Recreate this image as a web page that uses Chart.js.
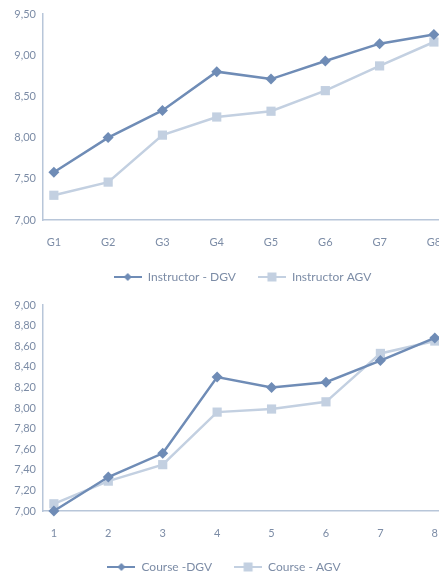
<!DOCTYPE html>
<html>
<head>
<meta charset="utf-8">
<script src="https://cdn.jsdelivr.net/npm/chart.js@4/dist/chart.umd.min.js"></script>
<style>
  html, body { margin: 0; padding: 0; background: #fff; overflow: hidden; width: 439px; height: 575px; }
  .wrap { position: absolute; left: -20px; }
  #w1 { top: 0; width: 502px; height: 293px; }
  #w2 { top: 290px; width: 474px; height: 293px; }
</style>
</head>
<body>
<div class="wrap" id="w1"><canvas id="c1" width="502" height="293"></canvas></div>
<div class="wrap" id="w2"><canvas id="c2" width="474" height="293"></canvas></div>
<script>
// ---- data ----
const instructorCategories = ["G1", "G2", "G3", "G4", "G5", "G6", "G7", "G8"];
const instructorDGV = [7.58, 8.00, 8.33, 8.80, 8.71, 8.93, 9.14, 9.25];
const instructorAGV = [7.30, 7.46, 8.03, 8.25, 8.32, 8.57, 8.87, 9.16];
const instructorLabels = ["Instructor - DGV", "Instructor AGV"];

const courseCategories = ["1", "2", "3", "4", "5", "6", "7", "8"];
const courseDGV = [7.00, 7.33, 7.56, 8.30, 8.20, 8.25, 8.46, 8.68];
const courseAGV = [7.07, 7.29, 7.45, 7.96, 7.99, 8.06, 8.53, 8.65];
const courseLabels = ["Course -DGV", "Course - AGV"];

// ---- styles ----
const DARK = "#6f8cb6";
const LIGHT = "#c3d0e1";
const TEXT = "#7c8ca6";
const AXIS = "#b8c6d9";
const FONT = "Lato, 'Open Sans', sans-serif";

function legendIcon(color, style) {
  const c = document.createElement("canvas");
  c.width = 28; c.height = 12;
  const g = c.getContext("2d");
  g.strokeStyle = color; g.lineWidth = 2;
  g.beginPath(); g.moveTo(0, 6); g.lineTo(28, 6); g.stroke();
  g.fillStyle = color;
  g.beginPath();
  if (style === "diamond") {
    g.moveTo(14, 2); g.lineTo(18, 6); g.lineTo(14, 10); g.lineTo(10, 6); g.closePath();
  } else {
    g.rect(9.5, 1.5, 9, 9);
  }
  g.fill();
  return c;
}

function makeChart(id, cats, dgv, agv, labels, yMin, yMax, yStep, xMax, leftPad, topPad, xHeight) {
  const toPts = arr => arr.map((v, i) => ({ x: i + 1, y: v }));
  const icons = [legendIcon(DARK, "diamond"), legendIcon(LIGHT, "square")];
  return new Chart(document.getElementById(id), {
    type: "line",
    data: {
      datasets: [
        { label: labels[0], data: toPts(dgv), borderColor: DARK, backgroundColor: DARK,
          borderWidth: 2.5, pointBorderWidth: 0, pointStyle: "rectRot", pointRadius: 5.5, pointHoverRadius: 5.5, tension: 0, clip: false },
        { label: labels[1], data: toPts(agv), borderColor: LIGHT, backgroundColor: LIGHT,
          borderWidth: 2.5, pointBorderWidth: 0, pointStyle: "rect", pointRadius: 6.5, pointHoverRadius: 6.5, tension: 0, clip: false }
      ]
    },
    options: {
      responsive: false,
      animation: false,
      events: [],
      layout: { autoPadding: false, padding: { left: leftPad, right: 0, top: topPad, bottom: 0 } },
      plugins: {
        tooltip: { enabled: false },
        legend: {
          position: "bottom",
          labels: {
            usePointStyle: true,
            pointStyleWidth: 28,
            padding: 22,
            color: TEXT,
            font: { family: FONT, size: 12 },
            generateLabels: chart => chart.data.datasets.map((ds, i) => ({
              text: ds.label, pointStyle: icons[i], fillStyle: ds.borderColor,
              strokeStyle: ds.borderColor, lineWidth: 0, fontColor: TEXT, datasetIndex: i, hidden: false
            }))
          }
        }
      },
      scales: {
        x: {
          type: "linear", min: 0.8, max: xMax,
          afterBuildTicks: s => { s.ticks = cats.map((c, i) => ({ value: i + 1 })); },
          afterFit: s => { s.height = xHeight; },
          grid: { display: false, drawTicks: false },
          border: { display: true, color: AXIS, width: 1.5 },
          ticks: { color: TEXT, font: { family: FONT, size: 11 }, padding: 16,
                   maxRotation: 0, autoSkip: false,
                   callback: v => cats[Math.round(v) - 1] }
        },
        y: {
          min: yMin, max: yMax,
          afterFit: s => { s.width = 63 - leftPad; },
          grid: { display: false, drawTicks: false },
          border: { display: true, color: AXIS, width: 1.5 },
          ticks: { stepSize: yStep, color: TEXT, font: { family: FONT, size: 11 }, padding: 7,
                   callback: v => Number(v).toFixed(2).replace(".", ",") }
        }
      }
    }
  });
}

makeChart("c1", instructorCategories, instructorDGV, instructorAGV, instructorLabels, 7, 9.5, 0.5, 8.886, 23, 14, 29);
makeChart("c2", courseCategories, courseDGV, courseAGV, courseLabels, 7, 9, 0.2, 8.2, 14, 15, 28);
</script>
</body>
</html>
